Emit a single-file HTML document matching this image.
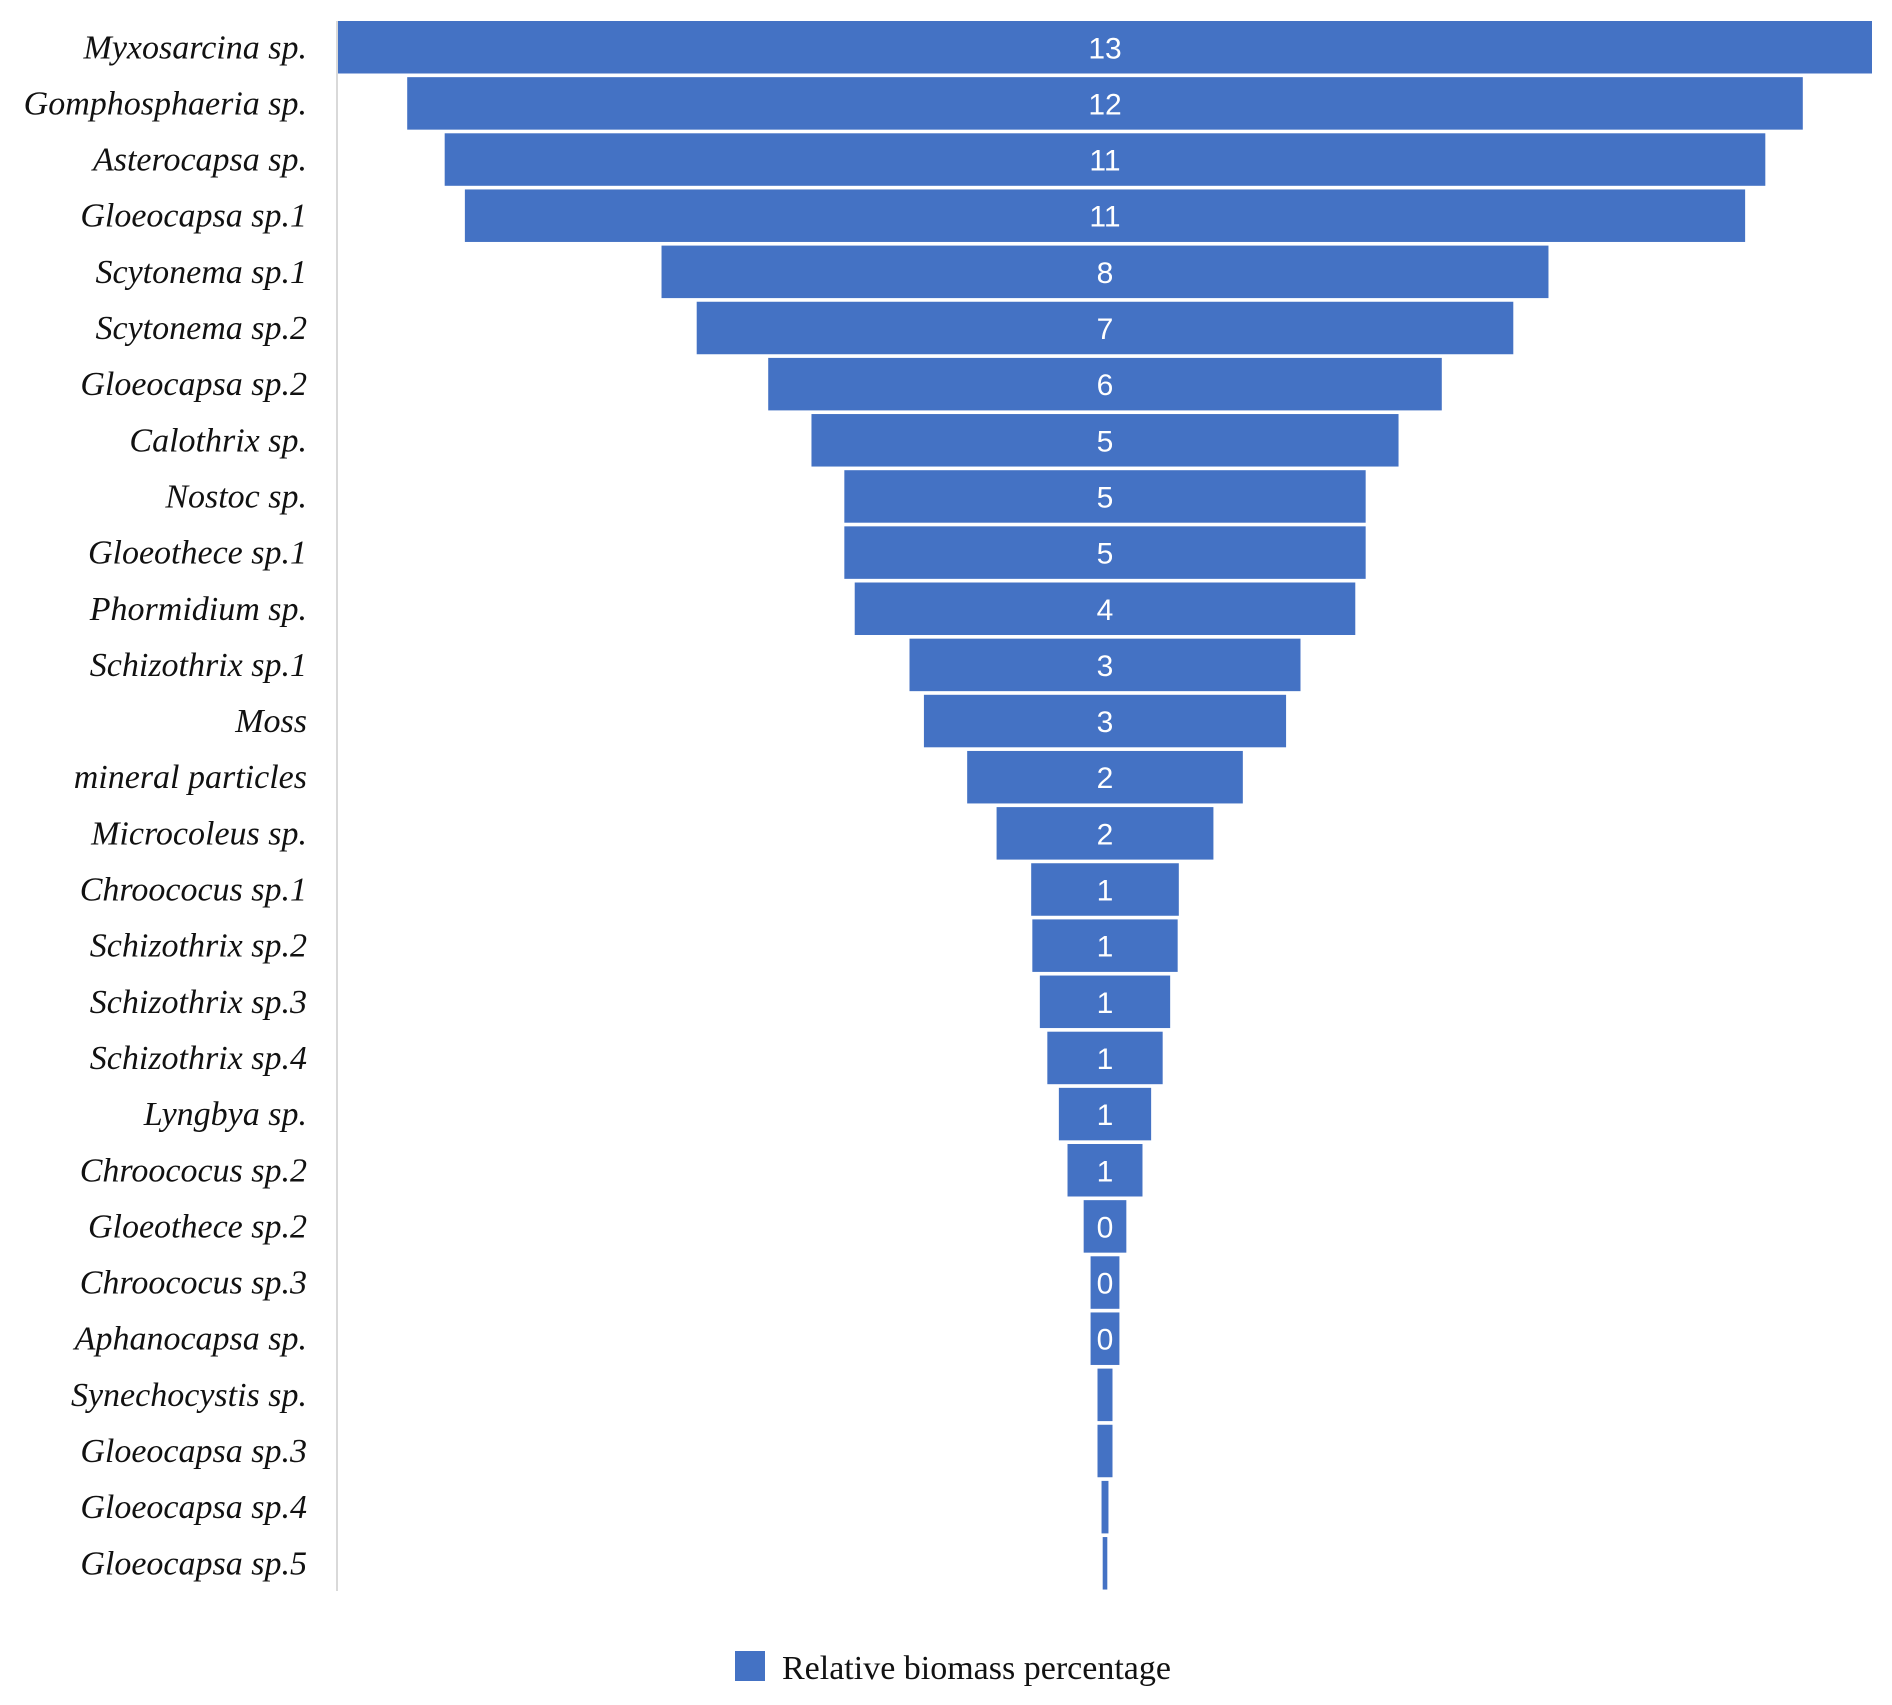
<!DOCTYPE html>
<html><head><meta charset="utf-8"><style>
html,body{margin:0;padding:0;background:#fff;}
svg{display:block;}
</style></head><body>
<svg id="chart" width="1892" height="1705" xmlns="http://www.w3.org/2000/svg">
<line x1="337" y1="21" x2="337" y2="1591" stroke="#d9d9d9" stroke-width="2"/>
<g id="bars"></g>
<g>
<rect x="735" y="1651" width="30" height="30" fill="#4472c4"/>
<text x="782" y="1679" font-family="Liberation Serif, serif" font-size="34" fill="#111">Relative biomass percentage</text>
</g>
</svg>
<script>
const categories = ["Myxosarcina sp.","Gomphosphaeria sp.","Asterocapsa sp.","Gloeocapsa sp.1","Scytonema sp.1","Scytonema sp.2","Gloeocapsa sp.2","Calothrix sp.","Nostoc sp.","Gloeothece sp.1","Phormidium sp.","Schizothrix sp.1","Moss","mineral particles","Microcoleus sp.","Chroococus sp.1","Schizothrix sp.2","Schizothrix sp.3","Schizothrix sp.4","Lyngbya sp.","Chroococus sp.2","Gloeothece sp.2","Chroococus sp.3","Aphanocapsa sp.","Synechocystis sp.","Gloeocapsa sp.3","Gloeocapsa sp.4","Gloeocapsa sp.5"];
const values = [13.3,12.1,11.45,11.1,7.69,7.08,5.84,5.09,4.52,4.52,4.34,3.39,3.14,2.39,1.88,1.28,1.26,1.13,1.0,0.8,0.65,0.37,0.25,0.25,0.13,0.13,0.06,0.04];

const NS = "http://www.w3.org/2000/svg";
const cx = 1105, halfMax = 767, vMax = 13.3;
const top0 = 21, pitch = 56.15, barH = 52.5;
function xHalf(v){ return v / vMax * halfMax; }
function yRow(i){ return top0 + i * pitch; }
const g = document.getElementById('bars');
categories.forEach((c, i) => {
  const v = values[i];
  const hw = xHalf(v);
  const y = yRow(i);
  const r = document.createElementNS(NS, 'rect');
  
  
  r.setAttribute('x', cx - hw);
  r.setAttribute('y', y);
  r.setAttribute('width', Math.max(2 * hw, 1));
  r.setAttribute('height', barH);
  r.setAttribute('fill', '#4472c4');
  g.appendChild(r);
  const t = document.createElementNS(NS, 'text');
  
  
  t.setAttribute('x', 307);
  t.setAttribute('y', y + barH / 2 + 11);
  t.setAttribute('text-anchor', 'end');
  t.setAttribute('font-family', 'Liberation Serif, serif');
  t.setAttribute('font-style', 'italic');
  t.setAttribute('font-size', '34');
  t.setAttribute('fill', '#111');
  t.textContent = c;
  g.appendChild(t);
  if (v >= 0.2) {
    const l = document.createElementNS(NS, 'text');
    
    
    l.setAttribute('x', cx);
    l.setAttribute('y', y + barH / 2 + 11);
    l.setAttribute('text-anchor', 'middle');
    l.setAttribute('font-family', 'Liberation Sans, sans-serif');
    l.setAttribute('font-size', '30');
    l.setAttribute('fill', '#fff');
    l.textContent = Math.round(v);
    g.appendChild(l);
  }
});
</script>
</body></html>
